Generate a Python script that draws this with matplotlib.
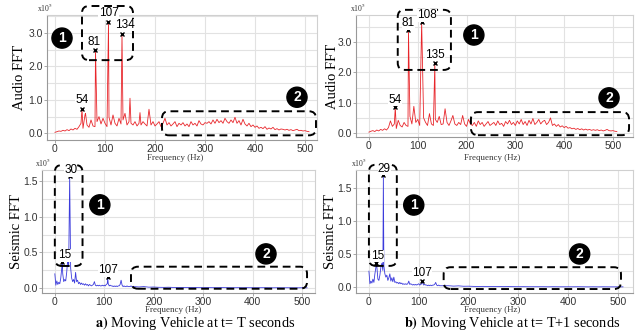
import numpy as np
import matplotlib.pyplot as plt
from matplotlib.patches import FancyBboxPatch

plt.rcParams['mathtext.fontset'] = 'stix'

# ---- data (FFT magnitudes in units of 1e5) ----
# audio spectra sampled every 4 Hz (0..508 Hz)
audio_t0 = [
    0.03, 0.05, 0.07, 0.06, 0.09, 0.07, 0.11, 0.08, 0.13, 0.10, 0.15, 0.12,
    0.20, 0.30, 0.15, 0.55, 0.25, 0.18, 0.40, 0.22, 0.20, 0.35, 0.50, 0.28, 0.45,
    0.30, 0.20, 0.48, 0.25, 0.55, 0.30, 0.22, 0.45, 0.28, 0.40, 0.60, 0.25, 0.35,
    0.30, 0.25, 0.35, 0.22, 0.30, 0.25, 0.35, 0.28, 0.22, 0.30, 0.25, 0.35, 0.22,
    0.28, 0.35, 0.20, 0.30, 0.45, 0.25, 0.32, 0.22, 0.28, 0.35, 0.20, 0.30, 0.25,
    0.32, 0.22, 0.28, 0.20, 0.35, 0.25, 0.30, 0.22, 0.38, 0.28, 0.25, 0.32, 0.30,
    0.35, 0.28, 0.40, 0.30, 0.42, 0.32, 0.38, 0.30, 0.45, 0.35, 0.30, 0.40, 0.32,
    0.48, 0.30, 0.38, 0.25, 0.42, 0.28, 0.22, 0.30, 0.20, 0.25, 0.18, 0.22, 0.15,
    0.18, 0.14, 0.20, 0.12, 0.16, 0.13, 0.18, 0.11, 0.14, 0.10, 0.13, 0.12, 0.10,
    0.12, 0.09, 0.11, 0.08, 0.10, 0.12, 0.08, 0.09, 0.07, 0.08, 0.06, 0.05,
]
audio_t0_peak_f = [54, 61, 81, 107, 134, 150, 170, 188]
audio_t0_peak_a = [0.72, 0.60, 2.50, 3.32, 2.97, 1.05, 0.62, 0.72]
audio_t0_marked = [54, 81, 107, 134]

audio_t1 = [
    0.03, 0.06, 0.08, 0.05, 0.10, 0.07, 0.12, 0.09, 0.14, 0.10, 0.18, 0.40,
    0.22, 0.30, 0.15, 0.42, 0.25, 0.20, 0.35, 0.25, 0.22, 0.55, 0.30, 0.88, 0.35,
    0.45, 0.25, 0.30, 0.50, 0.35, 0.25, 0.64, 0.30, 0.25, 0.45, 0.35, 0.55, 0.28,
    0.30, 0.80, 0.35, 0.25, 0.40, 0.58, 0.30, 0.25, 0.35, 0.28, 0.58, 0.30, 0.22,
    0.45, 0.30, 0.25, 0.35, 0.22, 0.40, 0.28, 0.35, 0.22, 0.30, 0.38, 0.25, 0.30,
    0.35, 0.25, 0.40, 0.28, 0.32, 0.22, 0.38, 0.30, 0.42, 0.28, 0.35, 0.25, 0.40,
    0.30, 0.45, 0.28, 0.38, 0.25, 0.42, 0.30, 0.48, 0.28, 0.35, 0.45, 0.30, 0.38,
    0.42, 0.28, 0.35, 0.50, 0.25, 0.30, 0.22, 0.28, 0.20, 0.24, 0.18, 0.22, 0.16,
    0.18, 0.14, 0.16, 0.12, 0.15, 0.11, 0.14, 0.10, 0.13, 0.10, 0.12, 0.09, 0.11,
    0.09, 0.11, 0.08, 0.10, 0.07, 0.09, 0.12, 0.08, 0.07, 0.08, 0.06, 0.05,
]
audio_t1_peak_f = [54, 81, 108, 135]
audio_t1_peak_a = [0.85, 3.38, 3.65, 2.30]
audio_t1_marked = [54, 81, 108, 135]

# seismic spectra: every 2 Hz up to 160 Hz, then every 10 Hz
seis_t0_low = [
    0.20, 0.04, 0.10, 0.05, 0.08, 0.06, 0.14, 0.28, 0.20, 0.09,
    0.12, 0.10, 0.22, 0.40, 0.30, 0.30, 0.28, 0.14, 0.09, 0.12,
    0.07, 0.22, 0.09, 0.11, 0.06, 0.08, 0.05, 0.07, 0.05, 0.06,
    0.04, 0.06, 0.04, 0.05, 0.03, 0.05, 0.04, 0.03, 0.04, 0.05,
    0.09, 0.04, 0.03, 0.04, 0.03, 0.04, 0.03, 0.03, 0.04, 0.03,
    0.04, 0.03, 0.05, 0.06, 0.06, 0.03, 0.04, 0.03, 0.03, 0.02,
    0.03, 0.02, 0.03, 0.02, 0.03, 0.03, 0.05, 0.11, 0.04, 0.02,
    0.03, 0.02, 0.02, 0.03, 0.02, 0.02, 0.02, 0.03, 0.02, 0.02,
    0.02,
]
seis_t0_high = [
    0.015, 0.020, 0.012, 0.014, 0.010, 0.009, 0.011, 0.008, 0.007, 0.008,
    0.006, 0.007, 0.006, 0.005, 0.006, 0.005, 0.005, 0.006, 0.005, 0.004,
    0.005, 0.004, 0.005, 0.004, 0.004, 0.005, 0.004, 0.003, 0.004, 0.003,
    0.004, 0.003, 0.003, 0.004, 0.003,
]
seis_t0_peak_f = [15, 30, 107]
seis_t0_peak_a = [0.36, 1.57, 0.15]
seis_t0_marked = [15, 30, 107]

seis_t1_low = [
    0.24, 0.05, 0.09, 0.06, 0.12, 0.07, 0.20, 0.30, 0.30, 0.12,
    0.10, 0.18, 0.30, 0.36, 0.25, 0.32, 0.20, 0.15, 0.18, 0.10,
    0.14, 0.20, 0.09, 0.14, 0.08, 0.15, 0.07, 0.08, 0.06, 0.07,
    0.05, 0.07, 0.05, 0.06, 0.04, 0.05, 0.04, 0.05, 0.04, 0.05,
    0.09, 0.04, 0.05, 0.04, 0.03, 0.04, 0.03, 0.04, 0.03, 0.04,
    0.05, 0.03, 0.04, 0.05, 0.06, 0.03, 0.04, 0.03, 0.03, 0.02,
    0.03, 0.02, 0.03, 0.02, 0.03, 0.03, 0.04, 0.07, 0.03, 0.02,
    0.03, 0.02, 0.02, 0.02, 0.02, 0.02, 0.02, 0.02, 0.02, 0.02,
    0.02,
]
seis_t1_high = [
    0.014, 0.018, 0.012, 0.013, 0.010, 0.009, 0.010, 0.008, 0.007, 0.008,
    0.006, 0.007, 0.006, 0.005, 0.006, 0.005, 0.005, 0.005, 0.005, 0.004,
    0.005, 0.004, 0.004, 0.004, 0.004, 0.005, 0.004, 0.003, 0.004, 0.003,
    0.004, 0.003, 0.003, 0.003, 0.003,
]
seis_t1_peak_f = [15, 29, 107]
seis_t1_peak_a = [0.36, 1.70, 0.09]
seis_t1_marked = [15, 29, 107]

xticks = [0, 100, 200, 300, 400, 500]


def merge(grid, base, pf, pa):
    grid = np.asarray(grid, float)
    base = np.asarray(base, float)
    keep = np.array([np.min(np.abs(np.asarray(pf) - g)) > 0.5 for g in grid])
    f = np.concatenate([grid[keep], pf])
    a = np.concatenate([base[keep], pa])
    order = np.argsort(f)
    return f[order], a[order]


def dashed_box(ax, x0, y0, x1, y1, xpp, ypp):
    p = FancyBboxPatch((x0, y0), x1 - x0, y1 - y0,
                       boxstyle='round,pad=0,rounding_size=%f' % (7 * xpp),
                       mutation_aspect=ypp / xpp, fill=False, ec='black',
                       lw=1.4, ls=(0, (4, 2.5)), clip_on=False, zorder=4)
    ax.add_patch(p)


def circle(ax, x, y, s):
    ax.text(x, y, s, ha='center', va='center', color='white',
            fontweight='bold', fontsize=10, fontfamily='Liberation Sans',
            bbox=dict(boxstyle='circle,pad=0.22', fc='black', ec='black'),
            clip_on=False, zorder=7)


def panel(fig, rect, f, a, pf, pa, marked, color, xlim, ylim, yticks, minor,
          ylabel, ylab_x, boxes, circles, offsets, sci_x):
    ax = fig.add_axes(rect)
    ax.set_xlim(xlim)
    ax.set_ylim(ylim)
    bb = ax.get_window_extent()
    xpp = (xlim[1] - xlim[0]) / bb.width
    ypp = (ylim[1] - ylim[0]) / bb.height

    ax.plot(f, a, color=color, lw=0.6, zorder=3)
    for m, (dx, dy) in zip(marked, offsets):
        y = pa[pf.index(m)]
        ax.plot(m, y, 'x', color='black', ms=3.5, mew=1.0, zorder=5)
        ax.annotate(str(m), (m, y), xytext=(dx, dy), textcoords='offset pixels',
                    ha='center', va='center', fontsize=8.5,
                    fontfamily='Liberation Sans',
                    bbox=dict(fc='white', ec='none', pad=0.2), zorder=6,
                    annotation_clip=False)
    for b in boxes:
        dashed_box(ax, *b, xpp, ypp)
    for i, (cx, cy) in enumerate(circles):
        circle(ax, cx, cy, str(i + 1))

    ax.set_xticks(xticks)
    ax.set_yticks(yticks)
    ax.set_yticklabels(['%.1f' % v for v in yticks])
    ax.set_yticks(minor, minor=True)
    ax.grid(True, which='both', color='#e2e2e2', lw=0.8)
    ax.set_axisbelow(True)
    ax.tick_params(labelsize=7.5, labelcolor='#333333', color='#999999',
                   length=2, width=0.6, pad=1)
    ax.tick_params(which='minor', length=0)
    for lbl in ax.get_xticklabels() + ax.get_yticklabels():
        lbl.set_fontfamily('Liberation Sans')
    for s in ax.spines.values():
        s.set_color('#d0d0d0')
        s.set_linewidth(0.8)
    ax.spines['left'].set_color('#999999')
    ax.spines['bottom'].set_color('#999999')

    # y label placed by hand, centred on the reference position
    ax.text(ylab_x, 0.5, ylabel, rotation=90, ha='center', va='center',
            transform=ax.transAxes, fontfamily='Liberation Serif',
            fontsize=10.5)
    ax.text(sci_x, 1.01, r'x10$^5$', transform=ax.transAxes, ha='center',
            va='bottom', fontsize=5.5, fontfamily='Liberation Serif',
            color='#333333')
    return ax


fig = plt.figure(figsize=(6.36, 3.31), dpi=100)

f, a = merge(np.arange(len(audio_t0)) * 4, audio_t0, audio_t0_peak_f, audio_t0_peak_a)
panel(fig, [0.0739, 0.577, 0.4245, 0.3776], f, a, audio_t0_peak_f, audio_t0_peak_a,
      audio_t0_marked, '#e8262b', (-16, 524), (-0.2, 3.54),
      [0.0, 1.0, 2.0, 3.0], [0.5, 1.5, 2.5, 3.5], 'Audio FFT', -0.102,
      [(54, 2.19, 156, 3.81), (214, -0.06, 522, 0.66)],
      [(14, 2.85), (484, 1.08)],
      [(0, 9), (-1, 8), (0, 9), (3, 9)], -0.007)

f, a = merge(np.arange(len(audio_t1)) * 4, audio_t1, audio_t1_peak_f, audio_t1_peak_a)
panel(fig, [0.5597, 0.5861, 0.4355, 0.3686], f, a, audio_t1_peak_f, audio_t1_peak_a,
      audio_t1_marked, '#e8262b', (-26.6, 541), (-0.13, 3.89),
      [0.0, 1.0, 2.0, 3.0], [0.5, 1.5, 2.5, 3.5], 'Audio FFT', -0.086,
      [(59, 2.08, 168, 4.06), (209, -0.07, 533, 0.69)],
      [(215, 3.23), (492, 1.16)],
      [(0, 7), (0, 7), (5, 7), (0, 8)], 0.007)

seis_grid = np.concatenate([np.arange(0, 161, 2), np.arange(170, 511, 10)])

f, a = merge(seis_grid, seis_t0_low + seis_t0_high, seis_t0_peak_f, seis_t0_peak_a)
panel(fig, [0.066, 0.1148, 0.4292, 0.3716], f, a, seis_t0_peak_f, seis_t0_peak_a,
      seis_t0_marked, '#3b3bdc', (-26, 526), (-0.07, 1.66),
      [0.0, 0.5, 1.0, 1.5], [0.25, 0.75, 1.25], 'Seismic FFT', -0.094,
      [(0, 0.31, 56, 1.73), (154, -0.01, 510, 0.30)],
      [(91, 1.17), (427, 0.48)],
      [(2, 7), (1, 6), (0, 7)], 0.004)

f, a = merge(seis_grid, seis_t1_low + seis_t1_high, seis_t1_peak_f, seis_t1_peak_a)
panel(fig, [0.5597, 0.1148, 0.4355, 0.3716], f, a, seis_t1_peak_f, seis_t1_peak_a,
      seis_t1_marked, '#3b3bdc', (-26, 530), (-0.09, 1.77),
      [0.0, 0.5, 1.0, 1.5], [0.25, 0.75, 1.25], 'Seismic FFT', -0.092,
      [(0, 0.32, 56, 1.85), (150, -0.03, 506, 0.30)],
      [(90, 1.24), (423, 0.50)],
      [(1, 7), (1, 6), (0, 8)], 0.011)

for x, y in [(175, 157.5), (492, 157.5), (173, 310.5), (492, 310.5)]:
    fig.text(x / 636, 1 - y / 331, 'Frequency (Hz)', ha='center', va='center',
             fontsize=6.4, fontfamily='Liberation Serif', color='#333333')

fig.text(195 / 636, 1 - 327 / 331, r'$\mathbf{a)}$ Moving Vehicle at t= T seconds',
         ha='center', va='baseline', fontsize=10.3, fontfamily='Liberation Serif')
fig.text(512 / 636, 1 - 327 / 331, r'$\mathbf{b)}$ Moving Vehicle at t= T+1 seconds',
         ha='center', va='baseline', fontsize=10.3, fontfamily='Liberation Serif')

fig.savefig('out.png', dpi=100)
